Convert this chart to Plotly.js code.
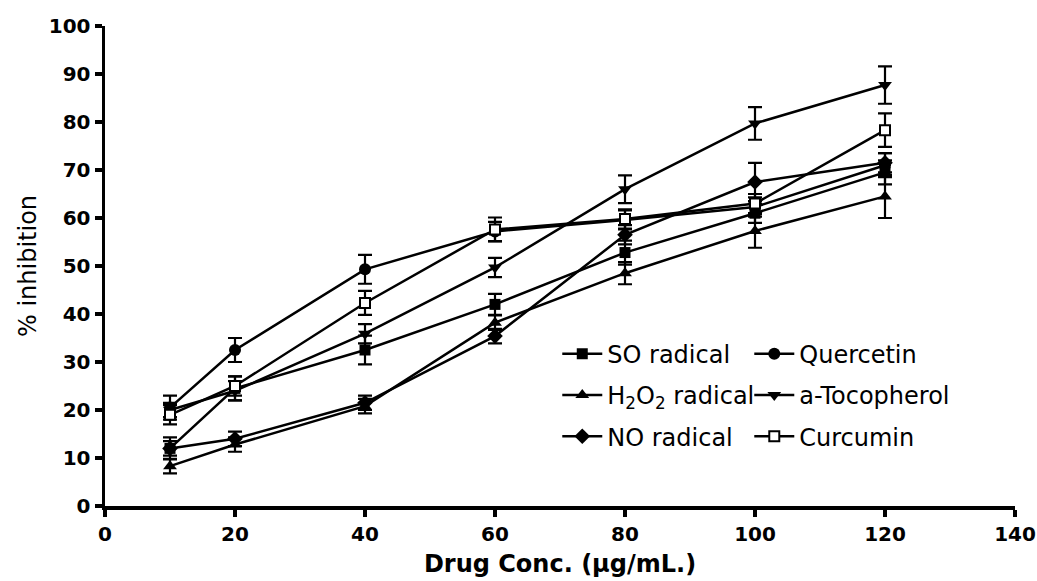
<!DOCTYPE html>
<html>
<head>
<meta charset="utf-8">
<script src="https://cdn.plot.ly/plotly-3.0.1.min.js"></script>
<style>html,body{margin:0;padding:0;background:#fff}#chart{width:1037px;height:581px}</style>
</head>
<body>
<div id="chart"></div>
<script>
const conc = [10, 20, 40, 60, 80, 100, 120];

const soRadical   = [12.0, 24.5, 32.5, 42.0, 52.8, 61.0, 69.5];
const soErr       = [2.3, 2.5, 3.0, 2.2, 2.5, 2.0, 2.5];
const h2o2Radical = [8.3, 12.8, 20.8, 38.2, 48.5, 57.3, 64.5];
const h2o2Err     = [1.5, 1.5, 1.5, 1.5, 2.3, 3.5, 4.5];
const noRadical   = [12.0, 14.0, 21.5, 35.4, 56.5, 67.5, 71.5];
const noErr       = [1.5, 1.5, 1.5, 1.5, 2.0, 4.0, 2.0];
const quercetin   = [20.5, 32.5, 49.3, 57.2, 59.6, 62.3, 71.0];
const quercetinErr= [2.5, 2.5, 3.0, 2.0, 2.0, 2.0, 2.5];
const tocopherol  = [20.0, 24.0, 35.9, 49.7, 66.0, 79.7, 87.7];
const tocopherolErr=[1.5, 2.0, 2.0, 2.0, 2.9, 3.4, 3.9];
const curcumin    = [19.0, 25.0, 42.3, 57.6, 59.8, 63.0, 78.3];
const curcuminErr = [2.0, 2.0, 2.5, 2.5, 2.0, 2.0, 3.5];

const names = ["SO radical", "Quercetin", "H<sub>2</sub>O<sub>2</sub> radical", "a-Tocopherol", "NO radical", "Curcumin"];

function tr(name, y, err, symbol, legend, fill, size) {
  return {
    x: conc, y: y, name: name, type: 'scatter', mode: 'lines+markers',
    legend: legend, legendgroup: name,
    line: {color: '#000', width: 2.5},
    marker: {symbol: symbol, size: size || 11, color: fill || '#000', line: {color: '#000', width: fill ? 2 : 0}},
    error_y: {type: 'data', array: err, visible: true, color: '#000', thickness: 2.2, width: 7}
  };
}

const data = [
  tr(names[4], noRadical, noErr, 'diamond', 'legend', null, 12),
  tr(names[2], h2o2Radical, h2o2Err, 'triangle-up', 'legend', null, 12),
  tr(names[3], tocopherol, tocopherolErr, 'triangle-down', 'legend2', null, 12),
  tr(names[1], quercetin, quercetinErr, 'circle', 'legend2', null, 12),
  tr(names[0], soRadical, soErr, 'square', 'legend', null, 11),
  tr(names[5], curcumin, curcuminErr, 'square', 'legend2', '#fff', 10)
];

const fam = 'DejaVu Sans, Arial, sans-serif';

const legendBase = {
  bgcolor: 'rgba(0,0,0,0)', borderwidth: 0,
  font: {family: fam, size: 24, color: '#000'},
  traceorder: 'grouped', tracegroupgap: 7,
  xanchor: 'left', yanchor: 'top', itemwidth: 40
};

const layout = {
  width: 1037, height: 581,
  paper_bgcolor: '#fff', plot_bgcolor: '#fff',
  margin: {l: 105, r: 22, t: 26, b: 75},
  showlegend: true,
  font: {family: fam, color: '#000'},
  xaxis: {
    range: [0, 140], tickvals: [0, 20, 40, 60, 80, 100, 120, 140],
    showline: true, linecolor: '#000', linewidth: 3.5,
    ticks: 'outside', ticklen: 7, tickwidth: 3.5, tickcolor: '#000',
    showgrid: false, zeroline: false,
    tickfont: {family: fam, size: 20, weight: 'bold', color: '#000'},
    title: {text: 'Drug Conc. (μg/mL.)', font: {family: fam, size: 24, weight: 'bold', color: '#000'}, standoff: 11}
  },
  yaxis: {
    range: [0, 100], tickvals: [0, 10, 20, 30, 40, 50, 60, 70, 80, 90, 100],
    showline: true, linecolor: '#000', linewidth: 3.5,
    ticks: 'outside', ticklen: 7, tickwidth: 3.5, tickcolor: '#000',
    showgrid: false, zeroline: false,
    tickfont: {family: fam, size: 20, weight: 'bold', color: '#000'},
    title: {text: '% inhibition', font: {family: fam, size: 24, color: '#000'}, standoff: 6}
  },
  legend: Object.assign({}, legendBase, {x: 0.497, y: 0.363}),
  legend2: Object.assign({}, legendBase, {x: 0.708, y: 0.363})
};

data[4].legendrank = 1; data[1].legendrank = 2; data[0].legendrank = 3;
data[3].legendrank = 1; data[2].legendrank = 2; data[5].legendrank = 3;

Plotly.newPlot('chart', data, layout, {displayModeBar: false, staticPlot: true});
</script>
</body>
</html>
